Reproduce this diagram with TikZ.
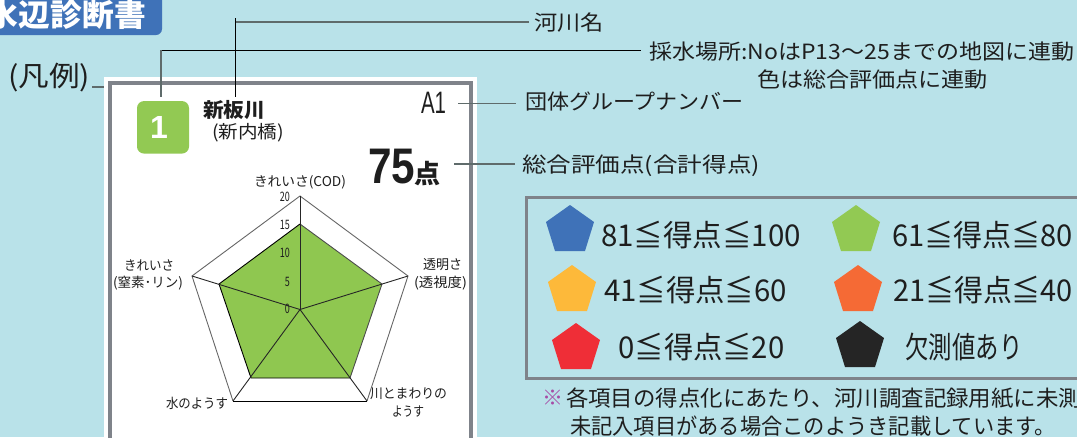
\documentclass[tikz,border=0pt]{standalone}
\usepackage{fontspec}
\usepackage{graphicx}
\setmainfont{Noto Sans CJK JP}
\newfontfamily\latinbold[Scale=1]{Liberation Sans}
\newcommand\fs[1]{\fontsize{#1}{#1}\selectfont}
\newcommand\fitw[2]{\resizebox{#1pt}{\height}{#2}}
\definecolor{bgc}{HTML}{B9E2E9}
\definecolor{tabc}{HTML}{3F72B8}
\definecolor{framec}{HTML}{7F838A}
\definecolor{greenc}{HTML}{92C953}
\definecolor{radarc}{HTML}{8FC750}
\definecolor{yelc}{HTML}{FDB93A}
\definecolor{orac}{HTML}{F56A35}
\definecolor{redc}{HTML}{EF2E37}
\definecolor{blkc}{HTML}{252525}
\definecolor{ink}{HTML}{1E1E1E}
\definecolor{leadc}{HTML}{5F6B6B}
\tikzset{
  lab/.style={anchor=west,inner sep=0pt,outer sep=0pt,text=ink},
  leadgray/.style={draw=leadc,line width=1.4pt},
  leadblack/.style={draw=black,line width=1pt},
  axisnum/.style={anchor=east,inner sep=0pt,text=ink,font=\fs{13}},
  spoke/.style={draw=black!85,line width=0.9pt},
}
\newcommand\pentagon[4]{% cx, top, colour, name
  \fill[#3] (#1,#2) -- (#1+24,#2+17) -- (#1+15,#2+46) -- (#1-15,#2+46) -- (#1-24,#2+17) -- cycle;
  \coordinate (#4) at (#1,#2+23);
}
\begin{document}
\begin{tikzpicture}[x=1pt,y=-1pt]
\useasboundingbox (0,0) rectangle (1077,437);
\clip (0,0) rectangle (1077,437);
\fill[bgc] (0,0) rectangle (1077,437);
% title tab
\fill[tabc,rounded corners=6pt] (-20,-20) rectangle (162,35);
\node[lab,text=white,font=\fs{31}\bfseries] (title) at (-13,15) {\fitw{159}{水辺診断書}};
% panel
\fill[white] (104,77) rectangle (477,445);
\draw[framec,line width=4pt] (110,450) -- (110,83) -- (471,83) -- (471,450);
% legend label
\node[lab,font=\fs{28}] (hanrei) at (8,78) {\fitw{82}{(凡例)}};
\coordinate (hanreiend) at (104,87);
\coordinate (hanreistart) at (92,87);
\draw[leadgray] (hanreistart) -- (hanreiend);
% sample header
\node[fill=greenc,rounded corners=7pt,minimum width=52pt,minimum height=52.5pt,inner sep=0pt] (nobox) at (163,127.3) {};
\node[inner sep=0pt,text=white,font=\latinbold\fs{32}\bfseries] (noval) at (159,127) {1};
\node[lab,font=\fs{20}\bfseries] (river) at (203,110) {\fitw{62}{新板川}};
\node[lab,font=\fs{18}] (station) at (212,133) {\fitw{72}{(新内橋)}};
\node[lab,font=\latinbold\fs{31}] (aone) at (421,103) {\fitw{25}{A1}};
\node[lab,font=\latinbold\fs{50}\bfseries] (score) at (368,167) {\fitw{47}{75}};
\node[lab,font=\fs{26}\bfseries] (ten) at (414.5,174) {\fitw{26}{点}};
% callout labels
\node[lab,font=\fs{21}] (lkasen) at (534.5,22.5) {\fitw{69.5}{河川名}};
\node[lab,font=\fs{21}] (lsaisui) at (649.5,52) {\fitw{424.5}{採水場所:NoはP13～25までの地図に連動}};
\node[lab,font=\fs{21}] (liro) at (757,80) {\fitw{231}{色は総合評価点に連動}};
\node[lab,font=\fs{21}] (ldantai) at (525,102) {\fitw{219}{団体グループナンバー}};
\node[lab,font=\fs{21}] (lsogo) at (522,166) {\fitw{238}{総合評価点(合計得点)}};
% connectors
\coordinate (kasenend) at (529,22);
\coordinate (riverend) at (235.3,97);
\coordinate (saisuiend) at (640.7,50.5);
\coordinate (noend) at (161,97);
\coordinate (aonestart) at (458,103.5);
\coordinate (aoneend) at (516,103.5);
\coordinate (scorestart) at (454,164);
\coordinate (scoreend) at (515,164);
\draw[leadgray] (kasenend) -- (235.3,22);
\draw[leadblack] (235.3,18) -- (riverend);
\draw[leadblack] (saisuiend) -- (161,50.5);
\draw[leadgray] (161,50) -- (noend);
\draw[leadgray] (aonestart) -- (aoneend);
\draw[leadgray] (scorestart) -- (scoreend);
% radar
\coordinate (rc) at (300,309.5);
\coordinate (oa) at (300,196);
\coordinate (ob) at (408,276);
\coordinate (oc) at (367,401);
\coordinate (od) at (233,401);
\coordinate (oe) at (192,276);
\coordinate (ia) at (300,224);
\coordinate (ib) at (382,284);
\coordinate (ic) at (350,378);
\coordinate (id) at (251,378);
\coordinate (ie) at (219,284);
\fill[radarc] (ia) -- (ib) -- (ic) -- (id) -- (ie) -- cycle;
\draw[draw=black!60,line width=0.9pt] (od) -- (oe) -- (oa) -- (ob) -- (oc);
\draw[draw=black,line width=1pt] (oc) -- (od);
\draw[draw=black!70,line width=0.9pt] (ia) -- (ib) -- (ic);
\draw[draw=black,line width=0.9pt] (ic) -- (id) -- (ie) -- (ia);
\draw[spoke] (rc) -- (oa);
\draw[spoke] (rc) -- (ob);
\draw[spoke] (rc) -- (oc);
\draw[spoke] (rc) -- (od);
\draw[spoke] (rc) -- (oe);
\node[axisnum] (n20) at (290,197) {\fitw{10}{20}};
\node[axisnum] (n15) at (290,225) {\fitw{10}{15}};
\node[axisnum] (n10) at (290,253) {\fitw{10}{10}};
\node[axisnum] (n5) at (290,282) {\fitw{5}{5}};
\node[axisnum] (n0) at (290,309) {\fitw{5}{0}};
\node[lab,font=\fs{13.5}] (t1) at (254,182) {\fitw{92}{きれいさ(COD)}};
\node[lab,font=\fs{13.5}] (t2) at (124,265) {\fitw{50}{きれいさ}};
\node[lab,font=\fs{13.5}] (t3) at (113,283) {\fitw{70}{(窒素･リン)}};
\node[lab,font=\fs{13.5}] (t4) at (423,265) {\fitw{39}{透明さ}};
\node[lab,font=\fs{13.5}] (t5) at (414,283) {\fitw{53}{(透視度)}};
\node[lab,font=\fs{13.5}] (t6) at (166,403) {\fitw{62}{水のようす}};
\node[lab,font=\fs{13.5}] (t7) at (370,394) {\fitw{77}{川とまわりの}};
\node[lab,font=\fs{13.5}] (t8) at (392,412) {\fitw{32}{ようす}};
% colour key
\draw[framec,line width=3pt] (1090,197) -- (526,197) -- (526,378) -- (1090,378);
\pentagon{570}{205}{tabc}{p1}
\pentagon{856}{205}{greenc}{p2}
\pentagon{572}{265}{yelc}{p3}
\pentagon{858}{265}{orac}{p4}
\pentagon{576}{323}{redc}{p5}
\pentagon{860}{321}{blkc}{p6}
\node[lab,font=\fs{30}] (k1) at (601,235) {\fitw{200}{81≦得点≦100}};
\node[lab,font=\fs{30}] (k2) at (892,235) {\fitw{181}{61≦得点≦80}};
\node[lab,font=\fs{30}] (k3) at (604,290) {\fitw{183}{41≦得点≦60}};
\node[lab,font=\fs{30}] (k4) at (893,290) {\fitw{180}{21≦得点≦40}};
\node[lab,font=\fs{30}] (k5) at (618.5,347) {\fitw{166}{0≦得点≦20}};
\node[lab,font=\fs{30}] (k6) at (905.5,347) {\fitw{117}{欠測値あり}};
% note
\node[lab,font=\fs{21},text=violet!70] (nmark) at (542,398) {※};
\node[lab,font=\fs{22}] (n1) at (566,398) {\fitw{515}{各項目の得点化にあたり、河川調査記録用紙に未測}};
\node[lab,font=\fs{22}] (n2) at (570,426) {\fitw{486}{未記入項目がある場合このようき記載しています。}};
\end{tikzpicture}
\end{document}
